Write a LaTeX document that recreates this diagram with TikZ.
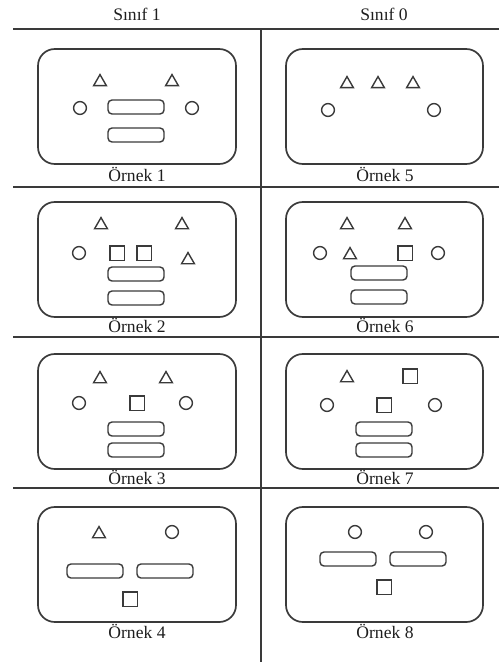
\documentclass[tikz,border=0pt]{standalone}
\usepackage{fontspec}
\setmainfont{Liberation Serif}
\usetikzlibrary{shapes.geometric}
\definecolor{ExLine}{HTML}{3A3A3A}
\definecolor{ExText}{HTML}{1E1E1E}

\begin{document}
\begin{tikzpicture}[x=0.025cm,y=-0.025cm,
  rule/.style={draw=ExLine,line width=1.1pt},
  frame/.style={draw=ExLine,line width=1.2pt,rounded corners=0.42cm},
  tri/.style={draw=ExLine,line width=1pt,regular polygon,regular polygon sides=3,minimum size=0.37cm,inner sep=0pt},
  circ/.style={draw=ExLine,line width=1pt,circle,minimum size=0.32cm,inner sep=0pt},
  sq/.style={draw=ExLine,line width=1pt,rectangle,minimum size=0.36cm,inner sep=0pt},
  bar/.style={draw=ExLine,line width=1pt,rectangle,rounded corners=0.1cm,minimum width=1.4cm,minimum height=0.35cm,inner sep=0pt},
  lbl/.style={anchor=base,text=ExText,inner sep=0pt,font=\fontsize{12.5}{14}\selectfont}]
\path[use as bounding box] (0,0) rectangle (499,664);
% column heads and grid
\node[lbl] (head1) at (137,21) {Sınıf 1};
\node[lbl] (head0) at (384,21) {Sınıf 0};
\draw[rule] (13,29) -- (499,29);
\draw[rule] (13,187) -- (499,187);
\draw[rule] (13,337) -- (499,337);
\draw[rule] (13,488) -- (499,488);
\draw[rule] (261,29) -- (261,662);
% frames
\draw[frame] (38,49) rectangle (236,164);
\draw[frame] (38,202) rectangle (236,317);
\draw[frame] (38,354) rectangle (236,469);
\draw[frame] (38,507) rectangle (236,622);
\draw[frame] (286,49) rectangle (483,164);
\draw[frame] (286,202) rectangle (483,317);
\draw[frame] (286,354) rectangle (483,469);
\draw[frame] (286,507) rectangle (483,622);
% example 1
\node[tri] (t1a) at (100,82) {};
\node[tri] (t1b) at (172,82) {};
\node[circ] (c1a) at (80,108) {};
\node[circ] (c1b) at (192,108) {};
\node[bar] (r1a) at (136,107) {};
\node[bar] (r1b) at (136,135) {};
\node[lbl] (ex1) at (137,181) {Örnek 1};
% example 2
\node[tri] (t2a) at (101,225) {};
\node[tri] (t2b) at (182,225) {};
\node[tri] (t2c) at (188,260) {};
\node[circ] (c2a) at (79,253) {};
\node[sq] (s2a) at (117,253) {};
\node[sq] (s2b) at (144,253) {};
\node[bar] (r2a) at (136,274) {};
\node[bar] (r2b) at (136,298) {};
\node[lbl] (ex2) at (137,332) {Örnek 2};
% example 3
\node[tri] (t3a) at (100,379) {};
\node[tri] (t3b) at (166,379) {};
\node[circ] (c3a) at (79,403) {};
\node[circ] (c3b) at (186,403) {};
\node[sq] (s3a) at (137,403) {};
\node[bar] (r3a) at (136,429) {};
\node[bar] (r3b) at (136,450) {};
\node[lbl] (ex3) at (137,484) {Örnek 3};
% example 4
\node[tri] (t4a) at (99,534) {};
\node[circ] (c4a) at (172,532) {};
\node[bar] (r4a) at (95,571) {};
\node[bar] (r4b) at (165,571) {};
\node[sq] (s4a) at (130,599) {};
\node[lbl] (ex4) at (137,638) {Örnek 4};
% example 5
\node[tri] (t5a) at (347,84) {};
\node[tri] (t5b) at (378,84) {};
\node[tri] (t5c) at (413,84) {};
\node[circ] (c5a) at (328,110) {};
\node[circ] (c5b) at (434,110) {};
\node[lbl] (ex5) at (385,181) {Örnek 5};
% example 6
\node[tri] (t6a) at (347,225) {};
\node[tri] (t6b) at (405,225) {};
\node[tri] (t6c) at (350,255) {};
\node[circ] (c6a) at (320,253) {};
\node[circ] (c6b) at (438,253) {};
\node[sq] (s6a) at (405,253) {};
\node[bar] (r6a) at (379,273) {};
\node[bar] (r6b) at (379,297) {};
\node[lbl] (ex6) at (385,332) {Örnek 6};
% example 7
\node[tri] (t7a) at (347,378) {};
\node[sq] (s7a) at (410,376) {};
\node[sq] (s7b) at (384,405) {};
\node[circ] (c7a) at (327,405) {};
\node[circ] (c7b) at (435,405) {};
\node[bar] (r7a) at (384,429) {};
\node[bar] (r7b) at (384,450) {};
\node[lbl] (ex7) at (385,484) {Örnek 7};
% example 8
\node[circ] (c8a) at (355,532) {};
\node[circ] (c8b) at (426,532) {};
\node[bar] (r8a) at (348,559) {};
\node[bar] (r8b) at (418,559) {};
\node[sq] (s8a) at (384,587) {};
\node[lbl] (ex8) at (385,638) {Örnek 8};
\end{tikzpicture}
\end{document}
